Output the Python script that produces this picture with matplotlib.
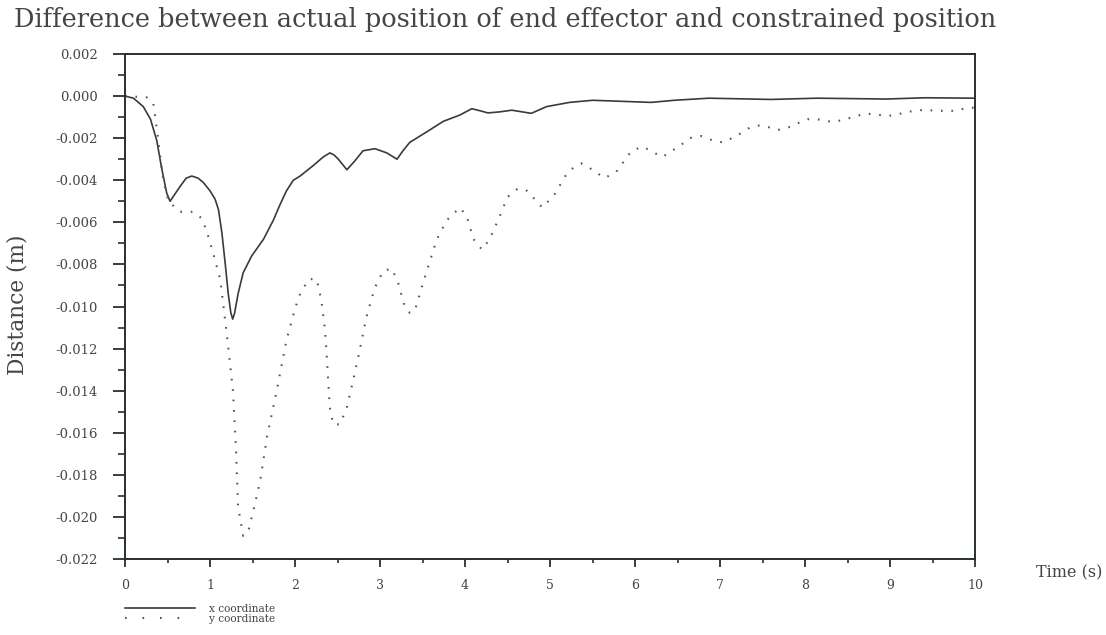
import matplotlib
matplotlib.use("Agg")
import matplotlib.pyplot as plt
from matplotlib.lines import Line2D
from matplotlib.ticker import MultipleLocator, FuncFormatter

# x coordinate error of the end effector (time in s, distance in m)
time_x = [0.0, 0.1, 0.215, 0.30, 0.373, 0.43, 0.49, 0.53, 0.58, 0.647, 0.72, 0.785,
          0.86, 0.92, 1.00, 1.06, 1.10, 1.14, 1.18, 1.215, 1.245, 1.267, 1.29,
          1.33, 1.39, 1.49, 1.63, 1.745, 1.83, 1.90, 1.98, 2.06, 2.215, 2.33, 2.41,
          2.46, 2.51, 2.61, 2.70, 2.80, 2.94, 3.08, 3.20, 3.27, 3.35, 3.55, 3.745,
          3.94, 4.08, 4.18, 4.27, 4.41, 4.55, 4.78, 4.96, 5.23, 5.50, 5.78,
          6.19, 6.46, 6.87, 7.60, 8.14, 8.96, 9.41, 10.0]
dist_x = [0.0, -0.0001, -0.0005, -0.0011, -0.0021, -0.0034, -0.0046, -0.0050,
          -0.0047, -0.0043, -0.0039, -0.0038, -0.0039, -0.0041, -0.0045, -0.0049,
          -0.0054, -0.0065, -0.0080, -0.0094, -0.0103, -0.0106, -0.0103, -0.0094,
          -0.0084, -0.0076, -0.0068, -0.0059, -0.0051, -0.0045, -0.0040, -0.0038,
          -0.0033, -0.0029, -0.0027, -0.0028, -0.0030, -0.0035, -0.0031, -0.0026,
          -0.0025, -0.0027, -0.0030, -0.0026, -0.0022, -0.0017, -0.0012, -0.0009,
          -0.0006, -0.0007, -0.0008, -0.00075, -0.00067, -0.00082, -0.0005,
          -0.0003, -0.0002, -0.00024, -0.0003, -0.0002, -0.0001, -0.00016,
          -0.0001, -0.00014, -0.00008, -0.0001]

# y coordinate error of the end effector
time_y = [0.0, 0.255, 0.333, 0.373, 0.41, 0.45, 0.51, 0.647, 0.80, 0.90, 0.96,
          1.04, 1.12, 1.20, 1.27, 1.305, 1.33, 1.39, 1.45, 1.51, 1.59, 1.67,
          1.785, 1.90, 2.00, 2.06, 2.16, 2.255, 2.31, 2.35, 2.37, 2.39, 2.41,
          2.45, 2.53, 2.61, 2.685, 2.76, 2.84, 2.94, 3.04, 3.14, 3.215, 3.29,
          3.35, 3.41, 3.49, 3.59, 3.67, 3.785, 3.94, 4.02, 4.10, 4.20, 4.29,
          4.41, 4.50, 4.62, 4.73, 4.82, 4.91, 5.05, 5.18, 5.275, 5.37, 5.50,
          5.64, 5.78, 5.87, 5.96, 6.09, 6.23, 6.32, 6.435, 6.55, 6.64, 6.78,
          6.91, 7.03, 7.14, 7.23, 7.35, 7.46, 7.60, 7.69, 7.80, 7.91, 8.03,
          8.14, 8.28, 8.37, 8.48, 8.60, 8.71, 8.82, 8.96, 9.05, 9.16, 9.28,
          9.41, 9.53, 9.64, 9.73, 9.87, 10.0]
dist_y = [0.0, -0.00006, -0.00035, -0.0015, -0.0027, -0.0040, -0.0050, -0.0055,
          -0.0055, -0.0058, -0.0064, -0.0075, -0.0087, -0.0114, -0.0140, -0.0167,
          -0.0195, -0.0209, -0.0207, -0.0197, -0.0183, -0.0162, -0.0140, -0.0116,
          -0.0101, -0.0094, -0.0087, -0.0087, -0.0097, -0.0110, -0.0121, -0.0135,
          -0.0148, -0.0156, -0.0156, -0.0148, -0.0135, -0.0121, -0.0105, -0.0091,
          -0.0083, -0.0082, -0.0089, -0.0100, -0.0103, -0.0102, -0.0091, -0.0078,
          -0.0068, -0.0059, -0.0053, -0.0057, -0.0068, -0.0073, -0.0068, -0.0057,
          -0.0048, -0.0044, -0.0045, -0.0049, -0.0053, -0.0047, -0.0038, -0.0034,
          -0.0032, -0.0035, -0.0039, -0.0036, -0.0031, -0.0026, -0.0024, -0.0027,
          -0.0029, -0.0026, -0.0023, -0.0020, -0.0019, -0.0021, -0.0022, -0.0020,
          -0.0018, -0.0015, -0.0014, -0.0015, -0.0016, -0.0015, -0.0013, -0.0011,
          -0.0011, -0.0012, -0.0012, -0.0011, -0.00095, -0.00084, -0.00086,
          -0.00095, -0.0009, -0.0008, -0.0007, -0.00065, -0.0007, -0.0007,
          -0.0007, -0.0006, -0.00054]

x_ticks = list(range(0, 11))
y_ticks = [0.002, 0.0, -0.002, -0.004, -0.006, -0.008, -0.010, -0.012,
           -0.014, -0.016, -0.018, -0.020, -0.022]

title_text = "Difference between actual position of end effector and constrained position"
series_labels = ["x coordinate", "y coordinate"]

W, H = 1106, 635
FONT = "DejaVu Serif"
INK = "#454545"
AXIS = "#27302a"
SOLID = "#3a3a3a"
DOTS = "#555555"

plt.rcParams["axes.unicode_minus"] = False
plt.rcParams["font.family"] = FONT

fig = plt.figure(figsize=(W / 100, H / 100), dpi=100)
fig.patch.set_facecolor("white")

left, right, top, bottom = 125, 975, 54, 559
ax = fig.add_axes([left / W, 1 - bottom / H, (right - left) / W, (bottom - top) / H])

ax.plot(time_x, dist_x, color=SOLID, lw=1.2, solid_joinstyle="round")
ax.plot(time_y, dist_y, color=DOTS, lw=1.5, linestyle=(0, (0.8, 4.2)),
        dash_capstyle="butt")

ax.set_xlim(0, 10)
ax.set_ylim(-0.022, 0.002)
ax.set_xticks(x_ticks)
ax.set_yticks(y_ticks)
ax.xaxis.set_minor_locator(MultipleLocator(0.5))
ax.yaxis.set_minor_locator(MultipleLocator(0.001))
ax.yaxis.set_major_formatter(FuncFormatter(lambda v, p: f"{v:.3f}".replace("-0.000", "0.000")))

for side, sp in ax.spines.items():
    sp.set_color(AXIS)
    sp.set_linewidth(1.4)

ax.tick_params(axis="y", which="major", direction="out", length=8.5, width=1.3,
               color=AXIS, pad=11, labelsize=9.5, labelcolor=INK)
ax.tick_params(axis="y", which="minor", direction="out", length=5, width=1.2, color=AXIS)
ax.tick_params(axis="x", which="major", direction="out", length=5.5, width=1.3,
               color=AXIS, pad=9, labelsize=9, labelcolor=INK)
ax.tick_params(axis="x", which="minor", direction="out", length=3, width=1.2, color=AXIS)

fig.canvas.draw()
renderer = fig.canvas.get_renderer()


def fit(txt, target, vertical=False):
    """Scale a text's font size so its extent spans target pixels."""
    bb = txt.get_window_extent(renderer)
    span = bb.height if vertical else bb.width
    txt.set_fontsize(txt.get_fontsize() * target / span)


title = fig.text(14 / W, 1 - 20 / H, title_text, ha="left", va="center",
                 fontsize=15, color=INK)
fit(title, 990)

ylab = fig.text(18 / W, 1 - 305 / H, "Distance (m)", rotation=90, ha="center",
                va="center", fontsize=13, color=INK)
fit(ylab, 140, vertical=True)

xlab = fig.text(1036 / W, 1 - 573 / H, "Time (s)", ha="left", va="center",
                fontsize=13, color=INK)
fit(xlab, 66)

# legend keys below the x axis
legend_keys = [
    Line2D([], [], color=SOLID, lw=1.2),
    Line2D([], [], color=DOTS, lw=1.5, linestyle=(0, (0.8, 7.6)), dash_capstyle="butt"),
]
leg = fig.legend(handles=legend_keys, labels=series_labels,
                 loc="upper left", bbox_to_anchor=(125 / W, 1 - 604 / H),
                 frameon=False, fontsize=7.6, handlelength=6.6, handletextpad=1.4,
                 labelspacing=0.0, borderpad=0, borderaxespad=0)
for t in leg.get_texts():
    t.set_color(INK)

fig.savefig("out.png", dpi=100, facecolor="white")
